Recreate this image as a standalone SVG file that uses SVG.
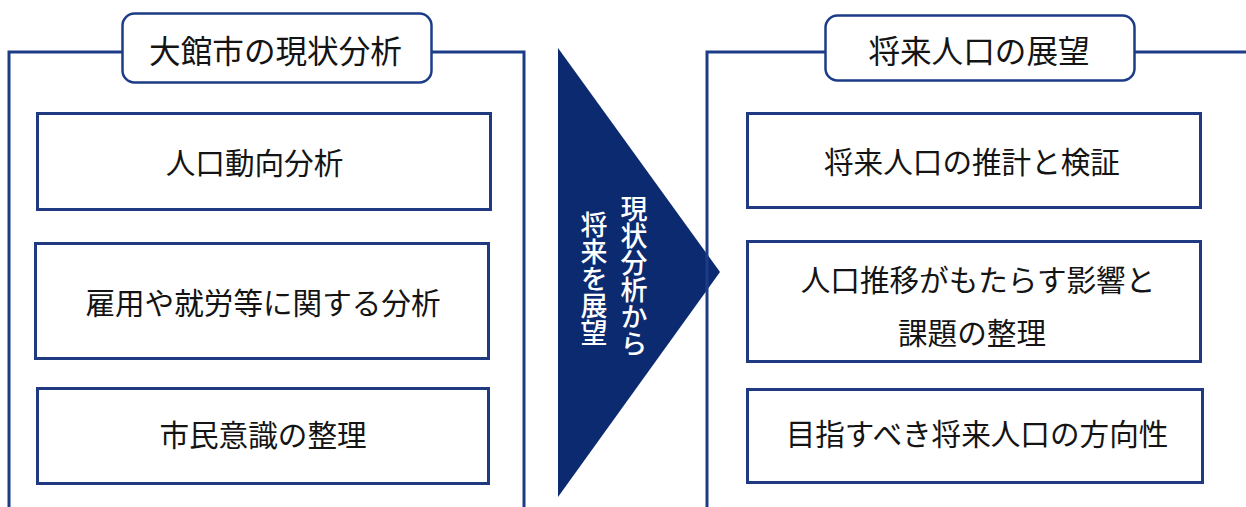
<svg xmlns="http://www.w3.org/2000/svg" width="1246" height="507" viewBox="0 0 1246 507">
<style>
.frame{fill:none;stroke:#1D3C87;stroke-width:3}
.box{fill:#fff;stroke:#1F3A80;stroke-width:3}
.title{fill:#fff;stroke:#1D3C87;stroke-width:2.5}
.t{font-family:"Noto Sans CJK JP","Noto Sans",sans-serif;font-size:29.6px;fill:#141414;text-anchor:middle;dominant-baseline:central}
.tt{font-size:31.6px}
.v{font-family:"Noto Sans CJK JP","Noto Sans",sans-serif;font-size:27px;fill:#fff;writing-mode:vertical-rl;text-anchor:middle;dominant-baseline:central;font-weight:500}
</style>
<rect width="1246" height="507" fill="#fff"/>
<g id="connectors">
<polygon id="arrow" points="558,48 720,272 558,497" fill="#0C2A70"/>
</g>
<g id="left-frame">
<polyline class="frame" points="9,507 9,52 524,52 524,507"/>
</g>
<g id="left-title">
<rect class="title" x="122.5" y="13.5" width="309" height="69" rx="12"/>
<text class="t tt" x="275.5" y="49">大館市の現状分析</text>
</g>
<g id="box-l1">
<rect class="box" x="37.5" y="113.5" width="453" height="96"/>
<text class="t" x="254.5" y="161">人口動向分析</text>
</g>
<g id="box-l2">
<rect class="box" x="35.5" y="243.5" width="453" height="115"/>
<text class="t" x="263" y="301">雇用や就労等に関する分析</text>
</g>
<g id="box-l3">
<rect class="box" x="37.5" y="388.5" width="451" height="95"/>
<text class="t" x="263" y="433">市民意識の整理</text>
</g>
<g id="arrow-label">
<text class="v" x="634" y="276">現状分析から</text>
<text class="v" x="594" y="279">将来を展望</text>
</g>
<g id="right-frame">
<polyline class="frame" points="707,507 707,52 1246,52"/>
</g>
<g id="right-title">
<rect class="title" x="825.5" y="15.5" width="309" height="65" rx="12"/>
<text class="t tt" x="979" y="49">将来人口の展望</text>
</g>
<g id="box-r1">
<rect class="box" x="747.5" y="113.5" width="453" height="94"/>
<text class="t" x="972" y="160">将来人口の推計と検証</text>
</g>
<g id="box-r2">
<rect class="box" x="747.5" y="241.5" width="453" height="120"/>
<text class="t" x="978" y="278">人口推移がもたらす影響と</text>
<text class="t" x="972" y="331">課題の整理</text>
</g>
<g id="box-r3">
<rect class="box" x="747.5" y="389.5" width="455" height="93"/>
<text class="t" x="977" y="432">目指すべき将来人口の方向性</text>
</g>
</svg>
